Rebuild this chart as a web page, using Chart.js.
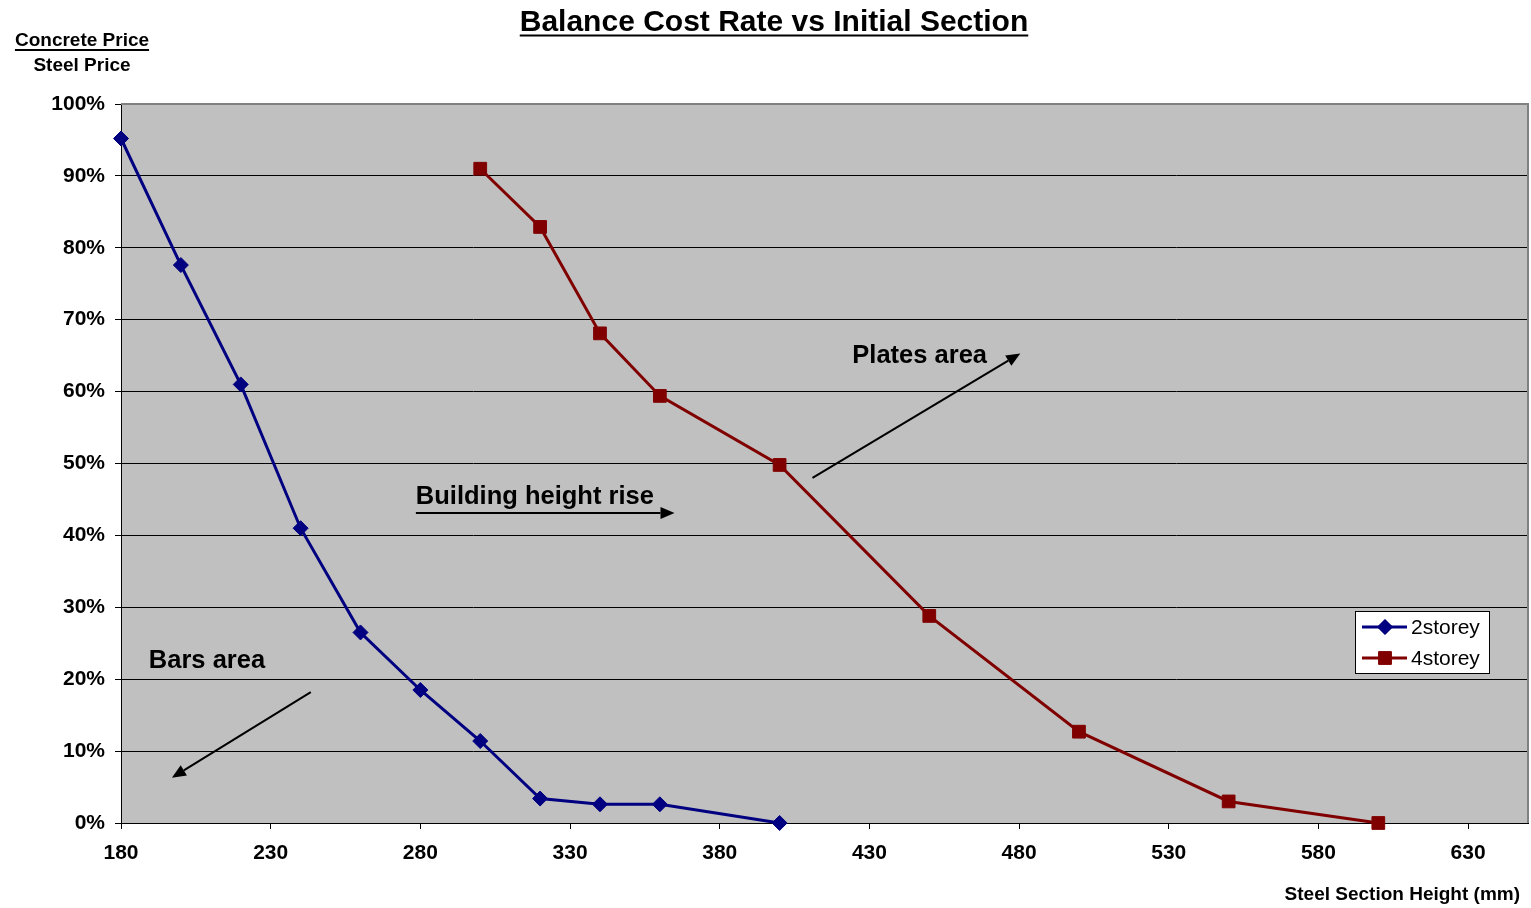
<!DOCTYPE html>
<html><head><meta charset="utf-8">
<script src="https://cdn.jsdelivr.net/npm/chart.js@4"></script>
<style>html,body{margin:0;padding:0;background:#fff}#wrap{width:1531px;height:908px}</style>
</head><body><div id="wrap"><canvas id="c" width="1531" height="908"></canvas></div>
<script>
const x2storey = [180, 200, 220, 240, 260, 280, 300, 320, 340, 360, 400];
const y2storey = [95.2, 77.6, 61.0, 41.0, 26.5, 18.5, 11.4, 3.4, 2.6, 2.6, 0];
const x4storey = [300, 320, 340, 360, 400, 450, 500, 550, 600];
const y4storey = [91.0, 82.9, 68.1, 59.4, 49.8, 28.8, 12.7, 3.0, 0];
const xTicks = [180, 230, 280, 330, 380, 430, 480, 530, 580, 630];
const yTicks = [0, 10, 20, 30, 40, 50, 60, 70, 80, 90, 100];
const seriesNames = ['2storey', '4storey'];

// annotations in data units
const notes = [
  {text: 'Plates area', x: 424.3, y: 65.0},
  {text: 'Building height rise', x: 278.5, y: 45.4},
  {text: 'Bars area', x: 189.3, y: 22.6}
];
const arrows = [
  {x1: 411, y1: 48.0, x2: 480.4, y2: 65.3},
  {x1: 278.5, y1: 43.1, x2: 364.9, y2: 43.1},
  {x1: 243.4, y1: 18.2, x2: 197, y2: 6.3}
];

const FONT = '"Liberation Sans", Arial, sans-serif';
const COLORS = ['#000080', '#800000'];

const deco = {
  id: 'deco',
  beforeDraw(chart) {
    const {ctx, chartArea: a} = chart;
    ctx.save();
    ctx.fillStyle = '#C0C0C0';
    ctx.fillRect(a.left, a.top, a.right - a.left, a.bottom - a.top);
    ctx.restore();
  },
  beforeDatasetsDraw(chart) {
    const {ctx, chartArea: a} = chart;
    ctx.save();
    ctx.strokeStyle = '#808080'; ctx.lineWidth = 2;
    ctx.beginPath();
    ctx.moveTo(a.left, a.top); ctx.lineTo(a.right, a.top); ctx.lineTo(a.right, a.bottom);
    ctx.stroke();
    ctx.restore();
  },
  afterDatasetsDraw(chart) {
    const {ctx, scales: {x, y}} = chart;
    ctx.save();
    // annotations
    ctx.fillStyle = '#000';
    ctx.font = 'bold 25.5px ' + FONT;
    ctx.textBaseline = 'middle'; ctx.textAlign = 'left';
    notes.forEach(n => ctx.fillText(n.text, x.getPixelForValue(n.x), y.getPixelForValue(n.y)));
    ctx.strokeStyle = '#000'; ctx.lineWidth = 2;
    arrows.forEach(ar => {
      const x1 = x.getPixelForValue(ar.x1), y1 = y.getPixelForValue(ar.y1);
      const x2 = x.getPixelForValue(ar.x2), y2 = y.getPixelForValue(ar.y2);
      const ang = Math.atan2(y2 - y1, x2 - x1);
      const L = 14, W = 6;
      const bx = x2 - L * Math.cos(ang), by = y2 - L * Math.sin(ang);
      ctx.beginPath(); ctx.moveTo(x1, y1); ctx.lineTo(bx, by); ctx.stroke();
      ctx.beginPath();
      ctx.moveTo(x2, y2);
      ctx.lineTo(bx + W * Math.sin(ang), by - W * Math.cos(ang));
      ctx.lineTo(bx - W * Math.sin(ang), by + W * Math.cos(ang));
      ctx.closePath(); ctx.fill();
    });
    // legend
    const lx = 1355, ly = 611, lw = 134, lh = 62;
    ctx.fillStyle = '#fff'; ctx.fillRect(lx, ly, lw, lh);
    ctx.strokeStyle = '#000'; ctx.lineWidth = 1;
    ctx.strokeRect(lx + 0.5, ly + 0.5, lw, lh);
    ctx.font = '21px ' + FONT; ctx.textBaseline = 'middle';
    const styles = ['rectRot', 'rect'];
    const radii = [7.5, 9];
    seriesNames.forEach((nm, i) => {
      const cy = ly + 16 + i * 31;
      ctx.strokeStyle = COLORS[i]; ctx.lineWidth = 3;
      ctx.beginPath(); ctx.moveTo(lx + 7, cy); ctx.lineTo(lx + 52, cy); ctx.stroke();
      ctx.fillStyle = COLORS[i]; ctx.lineWidth = 1;
      Chart.helpers.drawPoint(ctx, {pointStyle: styles[i], radius: radii[i], borderWidth: 1}, lx + 30, cy);
      ctx.fill();
      ctx.fillStyle = '#000';
      ctx.fillText(nm, lx + 56, cy + 1);
    });
    ctx.restore();
  },
  afterDraw(chart) {
    const {ctx} = chart;
    ctx.save();
    ctx.fillStyle = '#000'; ctx.strokeStyle = '#000';
    // title
    ctx.font = 'bold 30px ' + FONT;
    ctx.textAlign = 'center'; ctx.textBaseline = 'alphabetic';
    const t = 'Balance Cost Rate vs Initial Section';
    const tw = ctx.measureText(t).width;
    ctx.fillText(t, 774, 31);
    ctx.lineWidth = 2;
    ctx.beginPath(); ctx.moveTo(774 - tw / 2, 35.5); ctx.lineTo(774 + tw / 2, 35.5); ctx.stroke();
    // y label
    ctx.font = 'bold 19px ' + FONT;
    const t1 = 'Concrete Price';
    const w1 = ctx.measureText(t1).width;
    ctx.fillText(t1, 82, 46);
    ctx.beginPath(); ctx.moveTo(82 - w1 / 2, 50); ctx.lineTo(82 + w1 / 2, 50); ctx.stroke();
    ctx.fillText('Steel Price', 82, 71);
    // x label
    ctx.textAlign = 'right';
    ctx.fillText('Steel Section Height (mm)', 1520, 900);
    ctx.restore();
  }
};

new Chart(document.getElementById('c'), {
  type: 'line',
  data: {
    datasets: [
      {label: seriesNames[0], data: x2storey.map((v, i) => ({x: v, y: y2storey[i]})),
       borderColor: COLORS[0], backgroundColor: COLORS[0], borderWidth: 3, clip: false,
       pointStyle: 'rectRot', pointRadius: 7.5, pointBorderWidth: 1, tension: 0},
      {label: seriesNames[1], data: x4storey.map((v, i) => ({x: v, y: y4storey[i]})),
       borderColor: COLORS[1], backgroundColor: COLORS[1], borderWidth: 3, clip: false,
       pointStyle: 'rect', pointRadius: 9, pointBorderWidth: 1, tension: 0}
    ]
  },
  options: {
    responsive: false, animation: false,
    layout: {autoPadding: false, padding: {top: 104, right: 3, bottom: 0, left: 0}},
    plugins: {legend: {display: false}, tooltip: {enabled: false}, title: {display: false}},
    scales: {
      x: {
        type: 'linear', min: 180, max: 650,
        afterBuildTicks: s => { s.ticks = xTicks.map(v => ({value: v})); },
        afterFit: s => { s.height = 85; s.paddingLeft = 0; s.paddingRight = 0; },
        grid: {drawOnChartArea: false, drawTicks: true, tickLength: 6, color: '#000'},
        border: {color: '#000', width: 1},
        ticks: {color: '#000', font: {family: FONT, size: 21, weight: 'bold'}, padding: 12, maxRotation: 0}
      },
      y: {
        min: 0, max: 100,
        afterBuildTicks: s => { s.ticks = yTicks.map(v => ({value: v})); },
        afterFit: s => { s.width = 121; s.paddingTop = 0; s.paddingBottom = 0; },
        grid: {color: '#000', lineWidth: 1, tickLength: 6},
        border: {color: '#000', width: 1},
        ticks: {color: '#000', font: {family: FONT, size: 21, weight: 'bold'}, padding: 10,
                callback: v => v + '%'}
      }
    }
  },
  plugins: [deco]
});
</script>
</body></html>
